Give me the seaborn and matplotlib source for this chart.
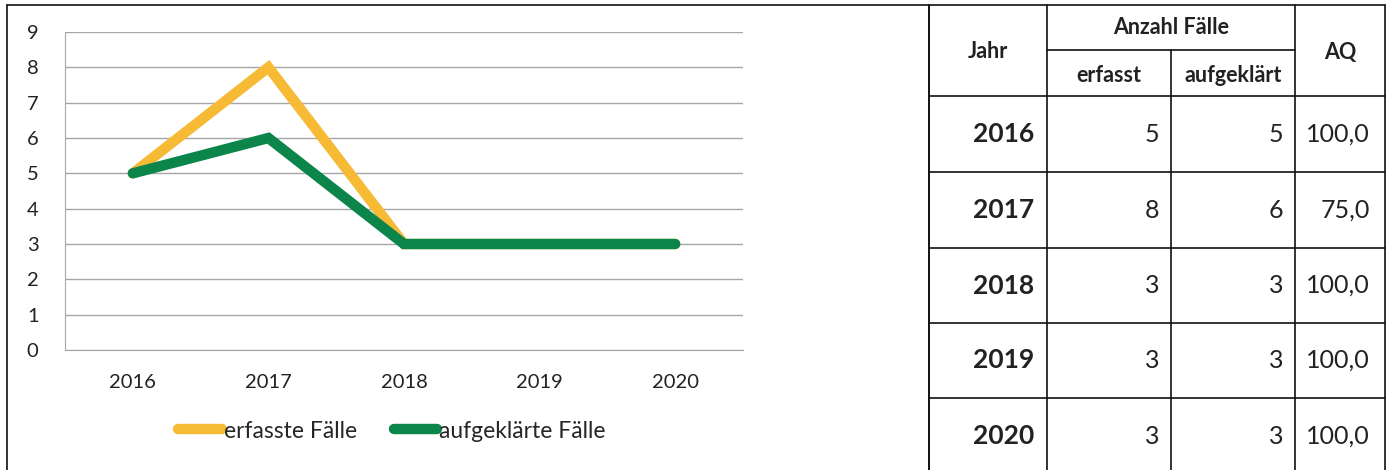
import pandas as pd
import matplotlib.pyplot as plt
import seaborn as sns
from matplotlib.lines import Line2D

jahre = ['2016', '2017', '2018', '2019', '2020']
erfasst = [5, 8, 3, 3, 3]
aufgeklaert = [5, 6, 3, 3, 3]
aq = ['100,0', '75,0', '100,0', '100,0', '100,0']

series_names = ['erfasste Fälle', 'aufgeklärte Fälle']
colors = ['#F7BA35', '#0B8549']

sns.set_style('white')
plt.rcParams['font.family'] = ['Lato', 'DejaVu Sans']

df = pd.DataFrame({'Jahr': jahre * 2,
                   'Fälle': erfasst + aufgeklaert,
                   'Serie': [series_names[0]] * 5 + [series_names[1]] * 5})
df['pos'] = list(range(5)) * 2

W, H = 1388, 470
fig = plt.figure(figsize=(W / 100, H / 100), dpi=100)
ax = fig.add_axes([65 / W, (H - 350) / H, (743 - 65) / W, (350 - 32) / H])

sns.lineplot(data=df, x='pos', y='Fälle', hue='Serie', palette=colors, linewidth=7.5,
             solid_capstyle='round', solid_joinstyle='miter', legend=False, ax=ax, zorder=3)

ax.set_xlim(-0.5, 4.5)
ax.set_ylim(0, 9)
ax.set_yticks(range(0, 10))
ax.set_xticks(range(5))
ax.set_xticklabels(jahre)
ax.set_xticks([i - 0.5 for i in range(6)], minor=True)
ax.tick_params(axis='x', which='major', length=0, pad=17, labelsize=14.5, colors='#222222')
ax.tick_params(axis='x', which='minor', length=6, width=1, color='#999999', direction='out')
ax.tick_params(axis='y', length=7, width=1, color='#A0A0A0', pad=12, labelsize=14.5, labelcolor='#222222')
ax.grid(axis='y', color='#A6A6A6', linewidth=1)
ax.set_axisbelow(True)
for s in ['top', 'right']:
    ax.spines[s].set_visible(False)
ax.spines['left'].set_color('#A6A6A6')
ax.spines['bottom'].set_color('#A6A6A6')
ax.set_xlabel('')
ax.set_ylabel('')

handles = [Line2D([], [], color=c, linewidth=7.5, solid_capstyle='round') for c in colors]
fig.legend(handles, series_names, loc='center', bbox_to_anchor=(392 / W, 1 - 431 / H), ncol=2,
           frameon=False, fontsize=16.5, handlelength=1.9, handletextpad=0.1, columnspacing=1.6)

# table and outer frame drawn in pixel coordinates
tx = fig.add_axes([0, 0, 1, 1], zorder=-1)
tx.set_xlim(0, W)
tx.set_ylim(H, 0)
tx.axis('off')
lc = '#111111'
tx.plot([7, 929, 929], [5, 5, 470], color=lc, lw=1.2)
tx.plot([7, 7], [5, 470], color=lc, lw=1.2)

cols = [929, 1047, 1171, 1295, 1385]
rows = [96, 172, 248, 323, 398, 470]
tx.plot([929, 1385], [5, 5], color=lc, lw=1.2)
for x in cols:
    if x in (1171,):
        tx.plot([x, x], [50, 470], color=lc, lw=1.2)
    else:
        tx.plot([x, x], [5, 470], color=lc, lw=1.2)
tx.plot([1047, 1295], [50, 50], color=lc, lw=1.2)
for y in rows[:-1]:
    tx.plot([929, 1385], [y, y], color=lc, lw=1.2)

tc = '#222222'
hs = 15.5
tx.text(988, 52, 'Jahr', ha='center', va='center', fontsize=hs, fontweight='bold', color=tc)
tx.text(1171, 28, 'Anzahl Fälle', ha='center', va='center', fontsize=hs, fontweight='bold', color=tc)
tx.text(1109, 75, 'erfasst', ha='center', va='center', fontsize=hs, fontweight='bold', color=tc)
tx.text(1233, 75, 'aufgeklärt', ha='center', va='center', fontsize=hs, fontweight='bold', color=tc)
tx.text(1340, 52, 'AQ', ha='center', va='center', fontsize=hs, fontweight='bold', color=tc)
for i in range(5):
    yc = (rows[i] + rows[i + 1]) / 2 if i < 4 else 436
    tx.text(1034, yc, jahre[i], ha='right', va='center', fontsize=19, fontweight='bold', color=tc)
    tx.text(1159, yc, str(erfasst[i]), ha='right', va='center', fontsize=18, color=tc)
    tx.text(1283, yc, str(aufgeklaert[i]), ha='right', va='center', fontsize=18, color=tc)
    tx.text(1370, yc, aq[i], ha='right', va='center', fontsize=18, color=tc)

fig.savefig('out.png', dpi=100)
